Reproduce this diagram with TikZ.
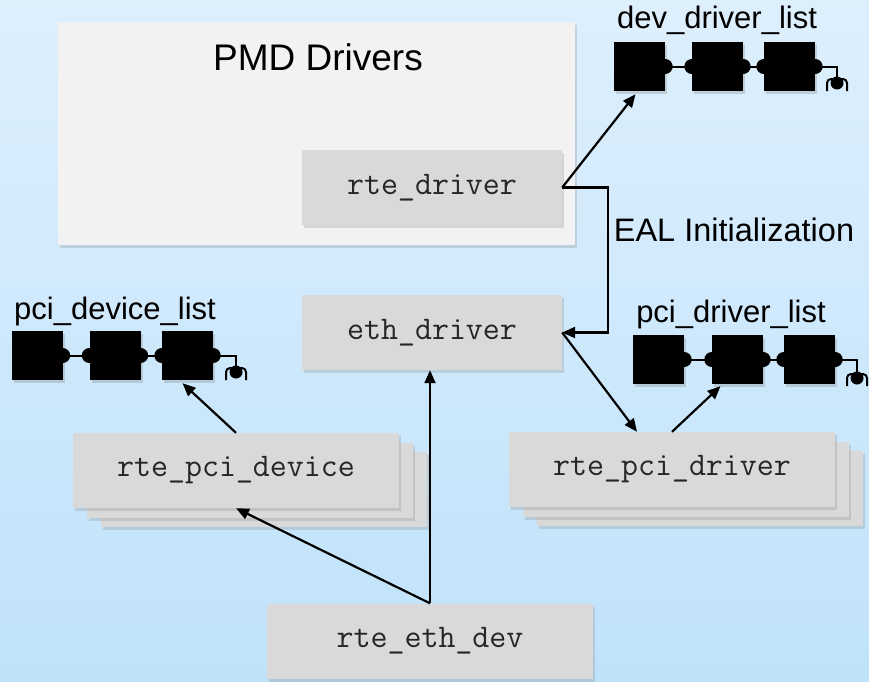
\documentclass[tikz,border=0pt]{standalone}
\usepackage{fontspec}
\setmainfont{Liberation Sans}
\usetikzlibrary{arrows.meta,shadows,calc}
\definecolor{bgtop}{HTML}{DEEFFC}
\definecolor{bgbot}{HTML}{BFE2FB}
\definecolor{pmdfill}{HTML}{F2F2F2}
\definecolor{boxfill}{HTML}{D9D9D9}
\definecolor{codetext}{HTML}{262626}
\tikzset{
  softshadow/.style={drop shadow={opacity=0.25,shadow xshift=2pt,shadow yshift=-3pt}},
  pmdbox/.style={fill=pmdfill,minimum width=517pt,minimum height=223pt,inner sep=0pt,softshadow},
  codebox/.style={fill=boxfill,minimum width=#1,minimum height=75pt,inner sep=0pt,softshadow,
    font=\ttfamily\fontsize{33}{36}\selectfont,text=codetext},
  codebox/.default=260pt,
  lbl/.style={font=\fontsize{31}{36}\selectfont,inner sep=0pt},
  lbox/.style={fill=black,minimum width=51pt,minimum height=49pt,inner sep=0pt,
    drop shadow={opacity=0.3,shadow xshift=2pt,shadow yshift=-3pt}},
  arr/.style={line width=2.2pt,-{Triangle[length=13pt,width=11pt]}},
  lline/.style={line width=2pt},
}
\newcommand{\bumps}[3]{%
  \fill (#1.east) circle (7.5pt);
  \fill (#2.west) circle (7.5pt);
  \fill (#2.east) circle (7.5pt);
  \fill (#3.west) circle (7.5pt);
  \fill (#3.east) circle (7.5pt);
  \draw[lline] (#1.east) -- (#2.west);
  \draw[lline] (#2.east) -- (#3.west);
}
\begin{document}
\begin{tikzpicture}[x=1pt,y=-1pt]
\shade[top color=bgtop,bottom color=bgbot] (0,0) rectangle (869,681);
\useasboundingbox (0,0) rectangle (869,681);

% PMD Drivers
\node[pmdbox] (pmd) at (316.5,133.5) {};
\node[font=\fontsize{37}{42}\selectfont,inner sep=0pt] (pmdlbl) at (318,57) {PMD Drivers};
\node[codebox] (rtedrv) at (432,187.5) {rte\_driver};
\node[codebox] (ethdrv) at (432,332.5) {eth\_driver};

% stacks
\node[codebox=326pt] (pcidev3) at (264,489.5) {};
\node[codebox=326pt] (pcidev2) at (250,480) {};
\node[codebox=326pt] (pcidev) at (236,470.5) {rte\_pci\_device};
\node[codebox=326pt] (pcidrv3) at (700,488.5) {};
\node[codebox=326pt] (pcidrv2) at (686,479) {};
\node[codebox=326pt] (pcidrv) at (672,469.5) {rte\_pci\_driver};
\node[codebox=326pt] (ethdev) at (430,641) {rte\_eth\_dev};

% labels
\node[lbl] (devlbl) at (717,20) {dev\_driver\_list};
\node[lbl] (pvlbl) at (115,311) {pci\_device\_list};
\node[lbl] (pdlbl) at (731,314) {pci\_driver\_list};
\node[lbl,font=\fontsize{32.5}{36}\selectfont] (eallbl) at (734,230) {EAL Initialization};

% dev_driver_list
\node[lbox] (dv1) at (639.5,66.5) {};
\node[lbox] (dv2) at (717.5,66.5) {};
\node[lbox] (dv3) at (789.5,66.5) {};
\bumps{dv1}{dv2}{dv3}
\coordinate (dvt) at (837,83);
\draw[lline] (dv3.east) -| (dvt);
\fill (dvt) circle (6.5pt);
\draw[lline,rounded corners=4pt] ($(dvt)+(-10,8)$) |- ($(dvt)+(10,-4)$) -- ($(dvt)+(10,8)$);

% pci_device_list
\node[lbox] (pv1) at (37,355.5) {};
\node[lbox] (pv2) at (115,355.5) {};
\node[lbox] (pv3) at (187.5,355.5) {};
\bumps{pv1}{pv2}{pv3}
\coordinate (pvt) at (236,372);
\draw[lline] (pv3.east) -| (pvt);
\fill (pvt) circle (6.5pt);
\draw[lline,rounded corners=4pt] ($(pvt)+(-10,8)$) |- ($(pvt)+(10,-4)$) -- ($(pvt)+(10,8)$);

% pci_driver_list
\node[lbox] (pd1) at (658.5,359.5) {};
\node[lbox] (pd2) at (737.5,359.5) {};
\node[lbox] (pd3) at (809.5,359.5) {};
\bumps{pd1}{pd2}{pd3}
\coordinate (pdt) at (857,378);
\draw[lline] (pd3.east) -| (pdt);
\fill (pdt) circle (6.5pt);
\draw[lline,rounded corners=4pt] ($(pdt)+(-10,8)$) |- ($(pdt)+(10,-4)$) -- ($(pdt)+(10,8)$);

% connectors
\draw[arr] (rtedrv.east) -- ([xshift=-4pt,yshift=-3pt]dv1.south);
\draw[arr] (rtedrv.east) -- ++(46,0) |- (ethdrv.east);
\draw[arr] (ethdrv.east) -- ([xshift=-35pt]pcidrv.north);
\draw[arr] (pcidrv.north) -- ([xshift=-17pt,yshift=-2pt]pd2.south);
\draw[arr] (pcidev.north) -- ([xshift=-5pt,yshift=-3pt]pv3.south);
\draw[arr] (ethdev.north) -- (ethdev.north |- ethdrv.south);
\draw[arr] (ethdev.north) -- (pcidev.south);
\end{tikzpicture}
\end{document}
